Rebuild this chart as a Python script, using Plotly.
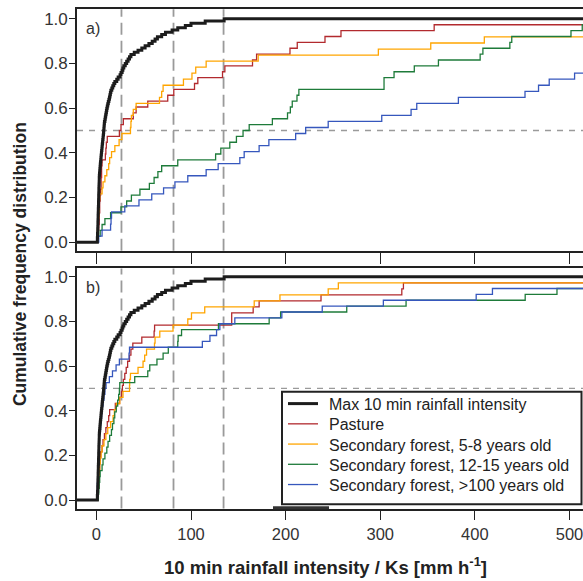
import numpy as np
import plotly.graph_objects as go

# ---- axes -------------------------------------------------------------
X_RANGE = [-20.5, 514.3]
Y_RANGE_A = [-0.039, 1.043]
Y_RANGE_B = [-0.038, 1.0375]
x_ticks = [0, 100, 200, 300, 400, 500]
y_ticks = [0.0, 0.2, 0.4, 0.6, 0.8, 1.0]
y_tick_labels = ["0.0", "0.2", "0.4", "0.6", "0.8", "1.0"]

# reference intensities (mm/h) marked with vertical dashed lines
ref_intensities = [26.5, 81.5, 134.4]
median_level = 0.5

# ---- data: maximum 10-min rainfall intensity of each event (mm/h) -----
max10_intensity = [
    1.0, 1.0, 1.2, 1.2, 1.4, 1.4, 1.5, 1.6, 1.6, 1.7,
    1.8, 1.8, 1.9, 2.0, 2.0, 2.1, 2.2, 2.2, 2.3, 2.4,
    2.4, 2.5, 2.6, 2.6, 2.7, 2.8, 2.9, 3.0, 3.0, 3.1,
    3.3, 3.5, 3.7, 3.9, 4.1, 4.3, 4.6, 4.8, 5.0, 5.3,
    5.5, 5.8, 6.0, 6.2, 6.5, 6.7, 7.0, 7.2, 7.5, 7.7,
    7.9, 8.1, 8.3, 8.5, 9.0, 9.4, 9.8, 10.2, 10.6, 11.0,
    11.5, 12.0, 12.6, 13.2, 13.8, 14.3, 14.8, 15.3, 16.3, 17.3,
    18.4, 19.5, 21.5, 23.0, 25.0, 26.0, 27.2, 28.0, 29.0, 30.5,
    32.0, 33.5, 35.0, 36.5, 40.0, 44.0, 48.0, 51.5, 55.5, 59.0,
    62.0, 64.5, 69.0, 73.0, 80.0, 86.0, 94.0, 100.0, 115.0, 135.0,
]

# ---- data: saturated hydraulic conductivity Ks (mm/h), panel a ----------
ks_a_pasture = [1.5, 2, 2.5, 3, 3, 3.5, 3.5, 4, 4.5, 5,
                5, 5.5, 5.5, 6, 9.5, 10, 10.5, 11.5, 24.3, 26,
                28.5, 39, 42, 54.3, 75.4, 81.8, 103.7, 107.2, 133.3, 135.8,
                165, 169.3, 204.6, 212.3, 241.6, 258.5, 357, 600]
ks_a_sf_5_8 = [0.5, 1, 1.5, 2, 2.5, 3, 3, 3.5, 6, 7,
               9, 11, 13, 14, 16, 19.5, 24, 27, 36, 36.5,
               37, 39, 42, 66.7, 69, 70.5, 92, 101, 105, 116,
               171, 298, 353.4, 410, 550, 600, 700]
ks_a_sf_12_15 = [2, 4, 6, 9, 15, 26, 32, 37, 46, 56,
                 61, 65, 69, 86, 126, 131.5, 141, 148, 155, 161.5,
                 186, 202, 205, 207, 212, 214, 304, 304, 314.6, 336,
                 361.5, 405.6, 408.5, 437, 439, 501.6, 513.5, 560]
ks_a_sf_100 = [2.5, 6, 15, 15.5, 16, 30, 45, 58.5, 71, 83,
               96.6, 116, 128.7, 151.6, 156.2, 172, 182.3, 210.6, 221.2, 245,
               301.6, 332.6, 338.6, 382.6, 453, 467.3, 478.6, 505.4, 530, 545,
               560, 580, 600, 640, 700, 760, 850]

# ---- data: saturated hydraulic conductivity Ks (mm/h), panel b ----------
ks_b_pasture = [1.5, 2, 2.5, 3, 3, 3.5, 4, 4.5, 6, 7,
                8.5, 10, 11.5, 13, 14, 20, 24.5, 26.5, 27.5, 28.5,
                30, 31.5, 33, 35, 36.5, 38.5, 48, 61, 61.5, 143,
                143, 165.7, 172, 237.4, 322.8, 324.5, 700]
ks_b_sf_5_8 = [1.5, 2, 2.5, 3, 3, 3.5, 4, 5, 6, 8,
               10, 12, 15, 17.6, 19, 21.1, 24.7, 28.1, 35, 35.2,
               36, 44, 49.3, 51, 53, 61.4, 62, 67, 81, 96.6,
               100.5, 114.5, 166.8, 194, 245, 255.7, 650]
ks_b_sf_12_15 = [2, 2.5, 3, 3.5, 4, 6, 7, 9, 11, 12.3,
                 14, 15.9, 17, 18.5, 19.4, 21, 22.5, 23.5, 24.3, 24.7,
                 40.5, 54.3, 56.4, 64, 70.5, 76, 86, 86.4, 90, 129,
                 182.6, 194.7, 264.6, 327.3, 453.2, 486.8, 560, 650]
ks_b_sf_100 = [0.5, 1, 1, 1.5, 1.5, 2, 2, 2.5, 2.5, 3,
               3, 3.5, 4.5, 5, 5.5, 6, 7, 8, 9, 10.2,
               13.7, 17, 20.8, 24.3, 34.5, 35, 112, 120, 127, 130.5,
               146.3, 196, 238.7, 303.3, 401.4, 418.6, 560, 650]

names = [
    "Max 10 min rainfall intensity",
    "Pasture",
    "Secondary forest, 5-8 years old",
    "Secondary forest, 12-15 years old",
    "Secondary forest, >100 years old",
]
colors = ["#1c1c1c", "#b22a2e", "#ffa500", "#1e7b3a", "#3657bd"]
widths = [3, 1.3, 1.3, 1.3, 1.3]

panel_a = [ks_a_pasture, ks_a_sf_5_8, ks_a_sf_12_15, ks_a_sf_100]
panel_b = [ks_b_pasture, ks_b_sf_5_8, ks_b_sf_12_15, ks_b_sf_100]

FONT = "Liberation Sans, Arial, Helvetica, sans-serif"
INK = "#222222"
W, H = 583, 581
ML = 77


def ecdf_xy(values):
    """Empirical cumulative distribution as step vertices."""
    v = np.sort(np.asarray(values, dtype=float))
    n = len(v)
    y = np.arange(1, n + 1) / n
    xs = np.concatenate([[X_RANGE[0]], v, [max(v[-1], X_RANGE[1])]])
    ys = np.concatenate([[0.0], y, [1.0]])
    return xs, ys


def px_to_paper_y(py):
    return 1 - py / H


def px_to_paper_x(px):
    return (px - ML) / (W - ML)


fig = go.Figure()

for panel, (xa, ya) in zip([panel_a, panel_b], [("x", "y"), ("x2", "y2")]):
    for i, vals in enumerate(panel):
        xs, ys = ecdf_xy(vals)
        fig.add_trace(go.Scatter(
            x=xs, y=ys, mode="lines", line_shape="hv",
            line=dict(color=colors[i + 1], width=widths[i + 1]),
            name=names[i + 1], showlegend=False,
            xaxis=xa, yaxis=ya, hoverinfo="skip",
        ))
    xs, ys = ecdf_xy(max10_intensity)
    fig.add_trace(go.Scatter(
        x=xs, y=ys, mode="lines", line_shape="hv",
        line=dict(color=colors[0], width=widths[0]),
        name=names[0], showlegend=False,
        xaxis=xa, yaxis=ya, hoverinfo="skip",
    ))

axis_common = dict(
    showgrid=False, zeroline=False, showline=True, linecolor=INK, linewidth=1.6,
    ticks="outside", tickcolor=INK, tickwidth=1.4,
    tickfont=dict(family=FONT, size=17, color="#333333"),
)

dom_a = [px_to_paper_y(250.7), px_to_paper_y(8.3)]
dom_b = [px_to_paper_y(509.3), px_to_paper_y(268.3)]

fig.update_layout(
    width=W, height=H,
    margin=dict(l=ML, r=0, t=0, b=0),
    paper_bgcolor="white", plot_bgcolor="white",
    font=dict(family=FONT, color=INK),
    showlegend=False,
    xaxis=dict(axis_common, domain=[0, 1], range=X_RANGE, anchor="y", mirror=True,
               tickvals=x_ticks, ticklen=11, showticklabels=False),
    yaxis=dict(axis_common, domain=dom_a, range=Y_RANGE_A, anchor="x",
               tickvals=y_ticks, ticktext=y_tick_labels, ticklen=6,
               ticklabelstandoff=-2),
    xaxis2=dict(axis_common, domain=[0, 1], range=X_RANGE, anchor="y2", mirror=True,
                tickvals=x_ticks, ticklen=10, ticklabeloverflow="allow",
                tickfont=dict(family=FONT, size=16.5, color="#333333")),
    yaxis2=dict(axis_common, domain=dom_b, range=Y_RANGE_B, anchor="x2",
                tickvals=y_ticks, ticktext=y_tick_labels, ticklen=6,
                ticklabelstandoff=-2),
)

shapes = []
for xref, yref in [("x", "y"), ("x2", "y2")]:
    for v in ref_intensities:
        shapes.append(dict(type="line", xref=xref, yref=f"{yref} domain",
                           x0=v, x1=v, y0=0, y1=1, layer="below",
                           line=dict(color="#9a9a9a", width=1.8, dash="12px,6px")))
    shapes.append(dict(type="line", xref=f"{xref} domain", yref=yref,
                       x0=0, x1=1, y0=median_level, y1=median_level, layer="below",
                       line=dict(color="#9a9a9a", width=1.4, dash="6px,6px")))
# short heavy stroke on the lower frame
shapes.append(dict(type="line", xref="paper", yref="paper",
                   x0=px_to_paper_x(273), x1=px_to_paper_x(329),
                   y0=px_to_paper_y(508.6), y1=px_to_paper_y(508.6),
                   line=dict(color="#333333", width=3)))

# legend box with line keys
LEG_LEFT, LEG_TOP, LEG_RIGHT, LEG_BOTTOM = 282, 392, 581.5, 505
LEG_ROW0, LEG_ROW_STEP = 404, 20.3
LEG_KEY = (288, 318)
LEG_TEXT_X = 327
shapes.append(dict(type="rect", xref="paper", yref="paper",
                   x0=px_to_paper_x(LEG_LEFT), x1=px_to_paper_x(LEG_RIGHT),
                   y0=px_to_paper_y(LEG_BOTTOM), y1=px_to_paper_y(LEG_TOP),
                   fillcolor="white", line=dict(color=INK, width=2), layer="above"))

annotations = []
for i, name in enumerate(names):
    row = LEG_ROW0 + i * LEG_ROW_STEP
    shapes.append(dict(type="line", xref="paper", yref="paper",
                       x0=px_to_paper_x(LEG_KEY[0]), x1=px_to_paper_x(LEG_KEY[1]),
                       y0=px_to_paper_y(row), y1=px_to_paper_y(row),
                       line=dict(color=colors[i], width=widths[i]), layer="above"))
    annotations.append(dict(text=name, xref="paper", yref="paper",
                            x=px_to_paper_x(LEG_TEXT_X), y=px_to_paper_y(row + 1),
                            xanchor="left", yanchor="middle", showarrow=False,
                            font=dict(family=FONT, size=16, color=INK)))
fig.update_layout(shapes=shapes)

annotations += [
    dict(text="a)", xref="paper", yref="paper", x=px_to_paper_x(84), y=px_to_paper_y(27.5),
         xanchor="left", yanchor="middle", showarrow=False,
         font=dict(family=FONT, size=16, color="#333333")),
    dict(text="b)", xref="paper", yref="paper", x=px_to_paper_x(84), y=px_to_paper_y(287.5),
         xanchor="left", yanchor="middle", showarrow=False,
         font=dict(family=FONT, size=16, color="#333333")),
    dict(text="<b>Cumulative frequency distribution</b>", xref="paper", yref="paper",
         x=px_to_paper_x(20), y=px_to_paper_y(264), textangle=-90,
         xanchor="center", yanchor="middle", showarrow=False,
         font=dict(family=FONT, size=17.5, color=INK)),
    dict(text="<b>10 min rainfall intensity / Ks [mm h<sup>-1</sup>]</b>", xref="paper", yref="paper",
         x=px_to_paper_x(325), y=px_to_paper_y(567),
         xanchor="center", yanchor="middle", showarrow=False,
         font=dict(family=FONT, size=18.5, color=INK)),
]
fig.update_layout(annotations=annotations)

fig.write_html("out.html", config={"displayModeBar": False})
